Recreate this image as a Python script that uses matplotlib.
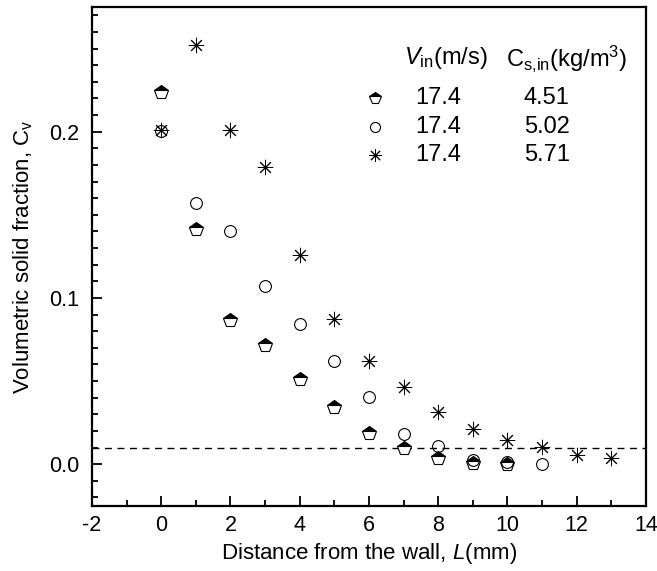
import numpy as np
import matplotlib.pyplot as plt

plt.rcParams['font.family'] = ['Liberation Sans', 'DejaVu Sans']
plt.rcParams['mathtext.fontset'] = 'custom'
plt.rcParams['mathtext.rm'] = 'Liberation Sans'
plt.rcParams['mathtext.it'] = 'Liberation Sans:italic'
plt.rcParams['axes.unicode_minus'] = False

# data
x_pent = [0, 1, 2, 3, 4, 5, 6, 7, 8, 9, 10]
y_pent = [0.224, 0.1414, 0.0867, 0.0717, 0.0510, 0.0345, 0.0189, 0.0094, 0.0034, 0.0008, 0.0002]

x_circ = [0, 1, 2, 3, 4, 5, 6, 7, 8, 9, 10, 11]
y_circ = [0.2002, 0.157, 0.140, 0.1074, 0.0841, 0.0622, 0.0402, 0.0179, 0.0108, 0.0026, 0.0010, 0.0]

x_star = [0, 1, 2, 3, 4, 5, 6, 7, 8, 9, 10, 11, 12, 13]
y_star = [0.201, 0.252, 0.201, 0.179, 0.1259, 0.0873, 0.0622, 0.0466, 0.0315, 0.0211, 0.0145, 0.0104, 0.0054, 0.0034]

v_in = ['17.4', '17.4', '17.4']
c_in = ['4.51', '5.02', '5.71']
threshold = 0.01

pent_style = dict(marker='p', ms=10, ls='none', fillstyle='top', mfc='black',
                  mfcalt='white', mec='black', mew=0.8)
circ_style = dict(marker='o', ms=8.5, ls='none', mfc='none', mec='black', mew=0.8)
star_style = dict(marker=(8, 2, 0), ms=11, ls='none', mec='black', mew=0.7)

fig = plt.figure(figsize=(6.57, 5.71), dpi=100)
ax = fig.add_axes([0.14, 0.1144, 0.843, 0.8733])

ax.axhline(threshold, color='black', lw=1, ls=(0, (5, 4)))
ax.plot(x_pent, y_pent, **pent_style)
ax.plot(x_circ, y_circ, **circ_style)
ax.plot(x_star, y_star, **star_style)

ax.set_xlim(-2, 14)
ax.set_ylim(-0.025, 0.275)
ax.set_xticks(np.arange(-2, 15, 2))
ax.set_xticks(np.arange(-1, 14, 2), minor=True)
ax.set_yticks([0.0, 0.1, 0.2])
ax.set_yticklabels(['0.0', '0.1', '0.2'])
ax.set_yticks(np.arange(-0.02, 0.275, 0.01), minor=True)
ax.tick_params(which='both', direction='in', labelsize=15.5, width=1.3)
ax.tick_params(which='major', length=7)
ax.tick_params(which='minor', length=4)
ax.tick_params(axis='x', pad=7)
ax.tick_params(axis='y', pad=9)
for s in ax.spines.values():
    s.set_linewidth(1.6)

ax.set_xlabel('Distance from the wall, $\\mathit{L}$(mm)', fontsize=16, labelpad=3)
ax.set_ylabel('Volumetric solid fraction, C$_\\mathrm{v}$', fontsize=16, labelpad=10)

# table-style legend
ax.text(0.639, 0.897, '$\\mathit{V}_\\mathrm{in}$(m/s)', transform=ax.transAxes,
        ha='center', va='center', fontsize=17)
ax.text(0.857, 0.897, 'C$_\\mathrm{s{,}in}$(kg/m$^3$)', transform=ax.transAxes,
        ha='center', va='center', fontsize=17)
rows_y = [0.8175, 0.759, 0.703]
styles = [pent_style, circ_style, star_style]
for yy, st, v, c in zip(rows_y, styles, v_in, c_in):
    st2 = dict(st)
    st2['ms'] = st['ms'] * 0.85
    ax.plot([0.511], [yy], transform=ax.transAxes, clip_on=False, **st2)
    ax.text(0.625, yy, v, transform=ax.transAxes, ha='center', va='center', fontsize=17)
    ax.text(0.821, yy, c, transform=ax.transAxes, ha='center', va='center', fontsize=17)

fig.savefig('out.png', dpi=100)
